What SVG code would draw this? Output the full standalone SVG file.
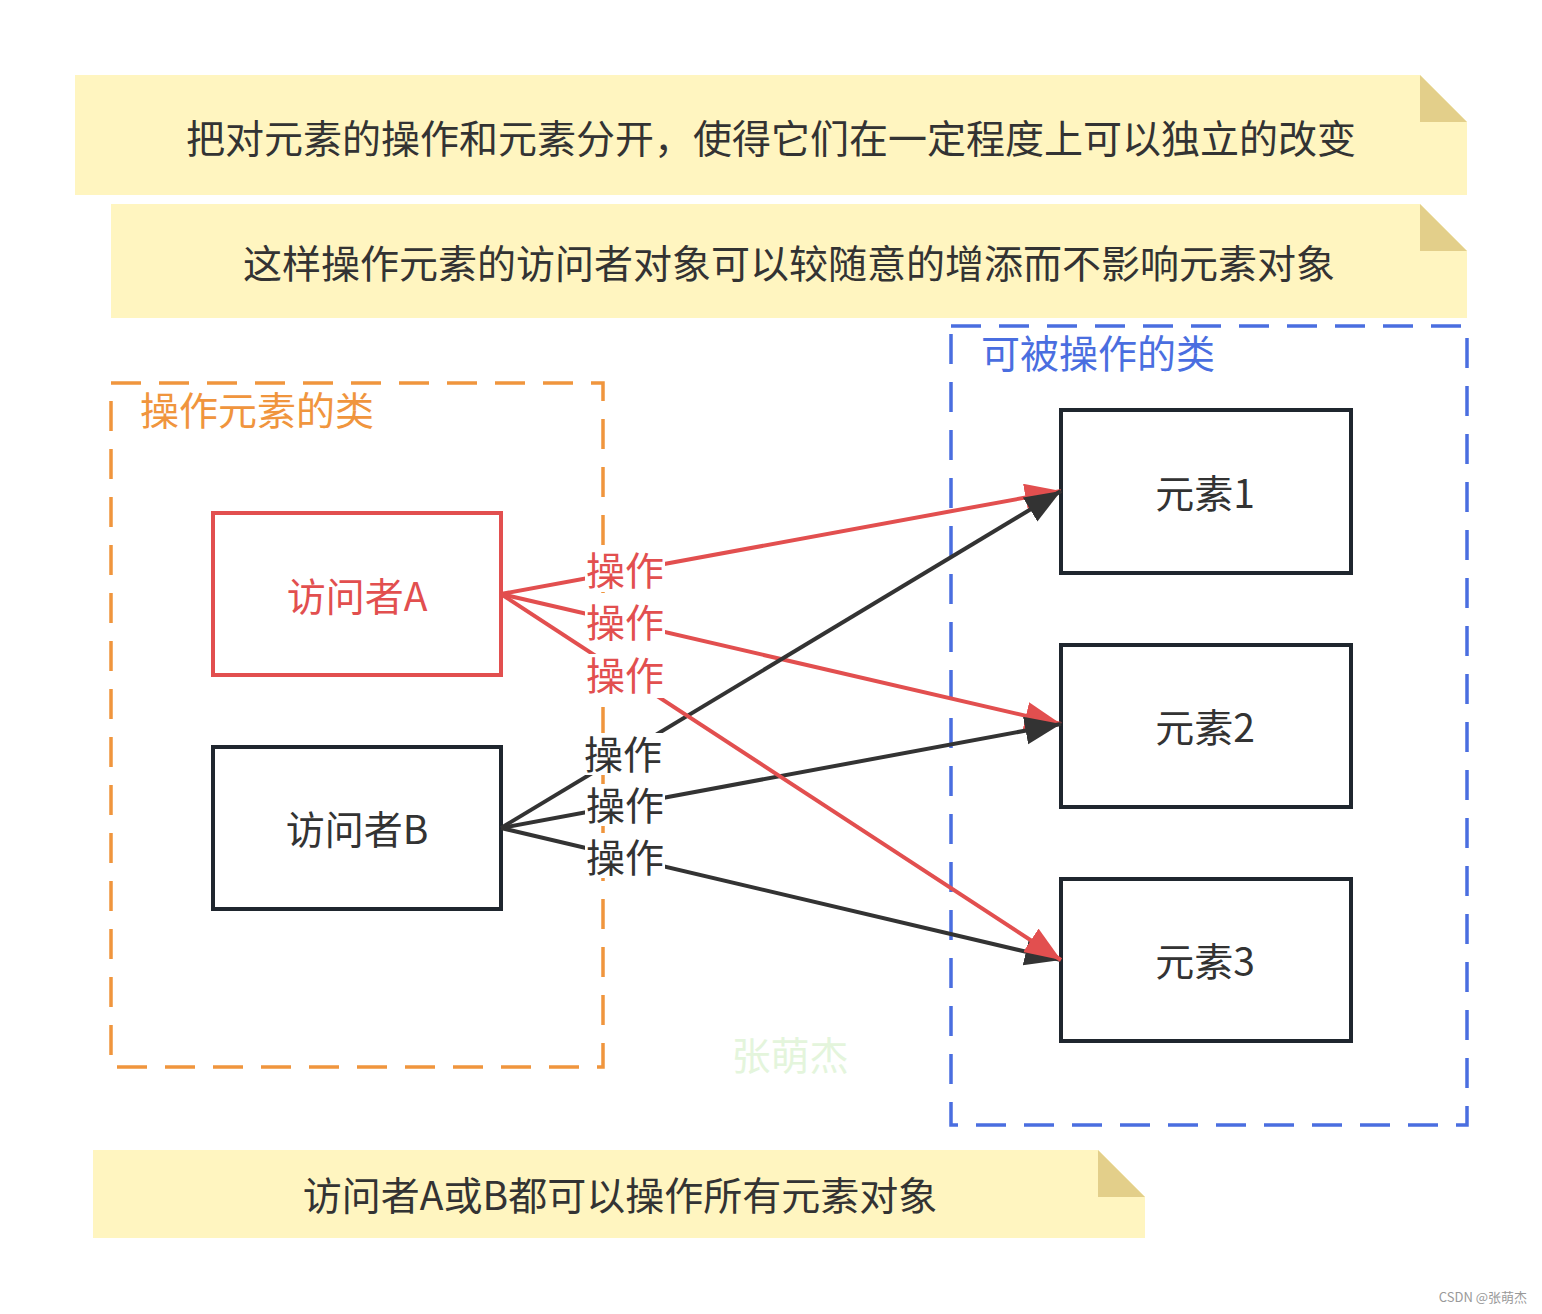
<svg xmlns="http://www.w3.org/2000/svg" width="1542" height="1314" viewBox="0 0 1542 1314">
<style>
text{font-family:"Noto Sans CJK SC","Noto Sans",sans-serif;dominant-baseline:central}
.note{fill:#fff5c0}
.fold{fill:#e3cf8a}
.nt{font-size:39px;fill:#333;text-anchor:middle}
.box{fill:#fff;stroke-width:4}
.bt{font-size:39px;text-anchor:middle}
.lbl{font-size:39px;text-anchor:middle}
.bg{fill:#fff}
.red{stroke:#e24f4f;stroke-width:4;fill:none}
.blk{stroke:#333;stroke-width:4;fill:none}
</style>
<defs>
<marker id="ar" markerUnits="userSpaceOnUse" markerWidth="40" markerHeight="30" refX="36" refY="14" orient="auto">
<path d="M0,0 L36,14 L0,28 Z" fill="#e24f4f"/>
</marker>
<marker id="ab" markerUnits="userSpaceOnUse" markerWidth="40" markerHeight="30" refX="36" refY="14" orient="auto">
<path d="M0,0 L36,14 L0,28 Z" fill="#333"/>
</marker>
</defs>
<rect width="1542" height="1314" fill="#fff"/>
<g id="note1">
<path class="note" d="M75,75 H1420 L1467,122 V195 H75 Z"/>
<path class="fold" d="M1420,75 L1467,122 H1420 Z"/>
<text class="nt" x="771" y="136">把对元素的操作和元素分开，使得它们在一定程度上可以独立的改变</text>
</g>
<g id="note2">
<path class="note" d="M111,204 H1420 L1467,251 V318 H111 Z"/>
<path class="fold" d="M1420,204 L1467,251 H1420 Z"/>
<text class="nt" x="789" y="261">这样操作元素的访问者对象可以较随意的增添而不影响元素对象</text>
</g>
<g id="note3">
<path class="note" d="M93,1150 H1098 L1145,1197 V1238 H93 Z"/>
<path class="fold" d="M1098,1150 L1145,1197 H1098 Z"/>
<text class="nt" x="620" y="1193">访问者A或B都可以操作所有元素对象</text>
</g>
<g id="groupVisitors">
<rect x="111" y="383" width="492" height="684" fill="none" stroke="#f0953d" stroke-width="3.5" stroke-dasharray="30 18"/>
<text x="140" y="408" font-size="39" fill="#f0953d">操作元素的类</text>
</g>
<g id="groupElements">
<rect x="951" y="326" width="516" height="799" fill="none" stroke="#4a6ee0" stroke-width="3.5" stroke-dasharray="30 18"/>
<text x="981" y="351" font-size="39" fill="#4a6ee0">可被操作的类</text>
</g>
<g id="visitorA">
<rect class="box" x="213" y="513" width="288" height="162" stroke="#e24f4f"/>
<text class="bt" x="357" y="594" fill="#e24f4f">访问者A</text>
</g>
<g id="visitorB">
<rect class="box" x="213" y="747" width="288" height="162" stroke="#1f262e"/>
<text class="bt" x="357" y="827" fill="#333">访问者B</text>
</g>
<g id="element1">
<rect class="box" x="1061" y="410" width="290" height="163" stroke="#1f262e"/>
<text class="bt" x="1205" y="491" fill="#333">元素1</text>
</g>
<g id="element2">
<rect class="box" x="1061" y="645" width="290" height="162" stroke="#1f262e"/>
<text class="bt" x="1205" y="725" fill="#333">元素2</text>
</g>
<g id="element3">
<rect class="box" x="1061" y="879" width="290" height="162" stroke="#1f262e"/>
<text class="bt" x="1205" y="959" fill="#333">元素3</text>
</g>
<g id="connectors">
<line class="red" x1="501" y1="594" x2="1061" y2="491" marker-end="url(#ar)"/>
<line class="red" x1="501" y1="594" x2="1061" y2="724" marker-end="url(#ar)"/>
<line class="blk" x1="501" y1="828" x2="1061" y2="724" marker-end="url(#ab)"/>
<line class="blk" x1="501" y1="828" x2="1061" y2="960" marker-end="url(#ab)"/>
<line class="blk" x1="501" y1="828" x2="1061" y2="491" marker-end="url(#ab)"/>
<line class="red" x1="501" y1="594" x2="1061" y2="960" marker-end="url(#ar)"/>
<g id="labels">
<rect class="bg" x="585" y="550" width="80" height="42"/>
<rect class="bg" x="585" y="602" width="80" height="42"/>
<rect class="bg" x="585" y="654" width="80" height="44"/>
<rect class="bg" x="583" y="733" width="80" height="42"/>
<rect class="bg" x="585" y="784" width="80" height="42"/>
<rect class="bg" x="585" y="836" width="80" height="42"/>
<text class="lbl" x="625" y="568" fill="#e24f4f">操作</text>
<text class="lbl" x="625" y="620" fill="#e24f4f">操作</text>
<text class="lbl" x="625" y="673" fill="#e24f4f">操作</text>
<text class="lbl" x="623" y="752" fill="#333">操作</text>
<text class="lbl" x="625" y="803" fill="#333">操作</text>
<text class="lbl" x="625" y="855" fill="#333">操作</text>
</g>
</g>
<text x="790" y="1053" font-size="39" fill="#e4f5dc" text-anchor="middle">张萌杰</text>
<text x="1527" y="1296" font-size="13" fill="#999" text-anchor="end">CSDN @张萌杰</text>
</svg>
